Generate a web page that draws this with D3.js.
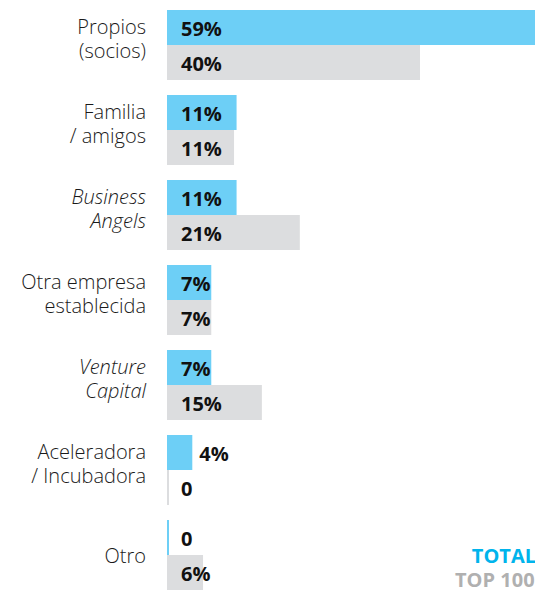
<!DOCTYPE html>
<html>
<head>
<meta charset="utf-8">
<script src="https://cdn.jsdelivr.net/npm/d3@7"></script>
<style>
  html, body { margin: 0; padding: 0; background: #fff; }
  svg { display: block; }
</style>
</head>
<body>
<div id="chart"></div>
<script>
// categories, two lines each (empty second line = single line label)
const categories = [
  ["Propios", "(socios)"],
  ["Familia", "/ amigos"],
  ["Business", "Angels"],
  ["Otra empresa", "establecida"],
  ["Venture", "Capital"],
  ["Aceleradora", "/ Incubadora"],
  ["Otro", ""]
];
const italicCats = [false, false, true, false, true, false, false];
const totalValues = [59, 11, 11, 7, 7, 4, 0];
const top100Values = [40, 10.6, 21, 7, 15, 0, 5.7];
const seriesNames = ["TOTAL", "TOP 100"];

const width = 535, height = 590;
const x0 = 167;

const svg = d3.select("#chart").append("svg")
  .attr("width", width)
  .attr("height", height);

// 85px per group, 70px of bars + 15px gap
const y = d3.scaleBand()
  .domain(d3.range(categories.length))
  .range([10, 10 + 85 * categories.length - 15])
  .paddingInner(15 / 85)
  .paddingOuter(0);

const ySub = d3.scaleBand()
  .domain([0, 1])
  .range([0, y.bandwidth()]);

const x = d3.scaleLinear()
  .domain([0, 40])
  .range([x0, 420]);

const colors = ["#6dcff6", "#dcdddf"];
const series = [totalValues, top100Values];

const groups = svg.selectAll("g.group")
  .data(categories)
  .enter()
  .append("g")
  .attr("class", "group")
  .attr("transform", (d, i) => "translate(0," + y(i) + ")");

// category labels
groups.append("text")
  .attr("text-anchor", "end")
  .attr("font-family", "'Open Sans', sans-serif")
  .attr("font-weight", 300)
  .attr("font-size", 20)
  .attr("fill", "#1a1a1a")
  .attr("font-style", (d, i) => italicCats[i] ? "italic" : "normal")
  .each(function(d) {
    const t = d3.select(this);
    const mid = y.bandwidth() / 2;
    if (d[1] === "") {
      t.append("tspan").attr("x", 146).attr("y", mid + 8).text(d[0]);
    } else {
      t.append("tspan").attr("x", 146).attr("y", mid - 11).text(d[0]);
      t.append("tspan").attr("x", 146).attr("y", mid + 13).text(d[1]);
    }
  });

series.forEach((vals, s) => {
  groups.append("rect")
    .attr("x", x0)
    .attr("y", ySub(s))
    .attr("height", ySub.bandwidth())
    .attr("width", (d, i) => vals[i] === 0 ? 2 : x(vals[i]) - x0)
    .attr("fill", colors[s]);

  groups.append("text")
    .attr("x", (d, i) => (vals[i] > 0 && vals[i] < 5) ? x(vals[i]) + 7 : 181)
    .attr("y", ySub(s) + ySub.bandwidth() / 2 + 8.5)
    .attr("font-family", "'Open Sans', sans-serif")
    .attr("font-weight", 700)
    .attr("font-size", 20)
    .attr("fill", "#111")
    .text((d, i) => vals[i] === 0 ? "0" : Math.round(vals[i]) + "%");
});

// legend
svg.append("text")
  .attr("x", 536)
  .attr("y", 563)
  .attr("text-anchor", "end")
  .attr("font-family", "'Open Sans', sans-serif")
  .attr("font-weight", 700)
  .attr("font-size", 20)
  .attr("fill", "#00b4ec")
  .text(seriesNames[0]);

svg.append("text")
  .attr("x", 455)
  .attr("y", 587)
  .attr("font-family", "'Open Sans', sans-serif")
  .attr("font-weight", 700)
  .attr("font-size", 20)
  .attr("fill", "#b0b0b0")
  .text(seriesNames[1]);
</script>
</body>
</html>
